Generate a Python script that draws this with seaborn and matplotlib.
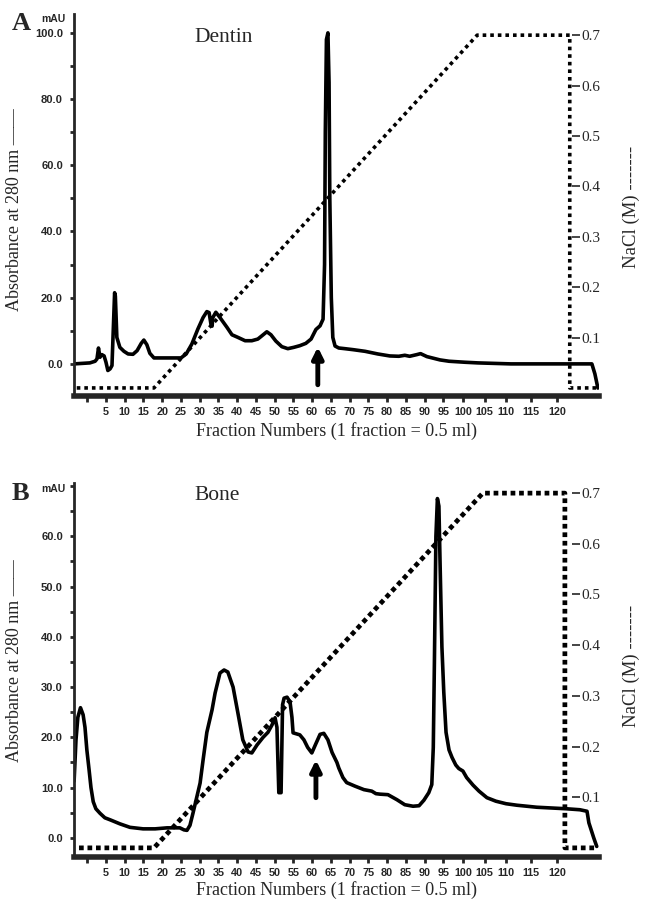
import numpy as np
import pandas as pd
import matplotlib
matplotlib.use("Agg")
import matplotlib.pyplot as plt
import seaborn as sns

# ---------------- data (fraction number, absorbance mAU) ----------------
dentin_frac = [-3.5, 0.7, 2.1, 2.6, 3.0, 3.4, 3.9, 4.5, 5.0, 5.5, 6.1, 6.6, 7.0, 7.3, 7.5, 7.9,
               8.7, 9.8, 10.9, 12.2, 13.3, 14.4, 15.1, 15.9, 16.7, 17.8, 25.0, 26.4, 27.9, 29.5,
               30.9, 31.9, 32.5, 33.0, 33.3, 33.5, 34.3, 35.4, 37.3, 38.6, 40.2, 42.1, 43.9, 45.5,
               46.6, 47.9, 49.0, 50.3, 51.9, 53.5, 55.1, 56.7, 58.3, 59.7, 61.0, 62.1, 62.9, 63.3,
               63.5, 63.8, 64.2, 64.5, 64.7, 65.1, 65.5, 66.1, 67.1, 68.7, 70.9, 74.1, 77.5, 80.7,
               83.1, 84.7, 86.0, 87.9, 88.9, 90.6, 94.1, 96.5, 100.7, 104.2, 113.0, 134.6, 135.4, 136.2]
dentin_abs = [0.0, 0.3, 0.8, 1.5, 4.8, 2.0, 2.8, 2.4, 0.5, -2.0, -1.5, -0.5, 12.0, 21.5, 20.5, 8.0,
              5.0, 3.8, 3.0, 2.9, 4.0, 6.2, 7.2, 5.8, 3.2, 1.8, 1.8, 3.0, 6.0, 10.5,
              14.0, 15.8, 15.5, 12.0, 11.4, 14.0, 15.6, 14.0, 11.0, 8.8, 8.0, 7.0, 7.0, 7.5,
              8.5, 9.7, 8.8, 6.9, 5.2, 4.6, 5.0, 5.5, 6.2, 7.5, 10.4, 11.5, 13.5, 30.0,
              70.0, 98.0, 100.0, 85.0, 50.0, 20.0, 8.0, 5.4, 4.8, 4.6, 4.3, 3.8, 3.0, 2.4,
              2.3, 2.6, 2.3, 2.8, 3.1, 2.2, 1.2, 0.8, 0.5, 0.3, 0.0, 0.0, -3.0, -7.3]

bone_frac = [-3.5, -3.0, -2.5, -1.8, -1.1, -0.6, -0.1, 0.5, 1.0, 1.6, 2.3, 3.4, 4.7, 6.1, 8.7,
             11.4, 14.9, 18.1, 21.3, 24.7, 25.8, 26.6, 27.4, 28.2, 30.1, 30.9, 31.9, 33.3, 34.1,
             35.4, 36.5, 37.5, 38.9, 40.2, 41.5, 42.9, 43.9, 45.3, 46.9, 48.2, 49.3, 50.1, 50.6,
             51.1, 51.7, 52.1, 52.5, 53.3, 54.1, 54.6, 54.9, 56.7, 57.8, 58.8, 59.9, 60.9, 62.1,
             63.1, 64.2, 65.3, 66.6, 67.1, 68.2, 69.2, 71.4, 73.8, 75.9, 77.0, 78.1, 80.2, 82.6,
             84.7, 86.9, 88.5, 89.8, 91.1, 91.9, 92.3, 92.6, 93.0, 93.4, 93.8, 94.1, 94.6, 95.1,
             95.7, 96.5, 97.3, 98.3, 99.1, 100.2, 101.2, 102.9, 104.5, 106.6, 109.0, 111.7, 114.6,
             119.9, 127.7, 131.4, 133.3, 133.8, 135.1, 135.9]
bone_abs = [11.3, 19.5, 24.0, 25.9, 24.5, 22.0, 17.5, 13.5, 10.0, 7.2, 5.8, 4.9, 4.0, 3.6, 2.8,
            2.1, 1.8, 1.8, 2.0, 2.0, 1.6, 1.5, 2.5, 4.9, 10.9, 15.5, 21.0, 25.5, 28.8,
            32.8, 33.4, 33.0, 30.0, 24.8, 19.5, 17.1, 16.9, 18.5, 20.0, 21.0, 22.5, 23.9, 22.0,
            9.0, 9.0, 26.5, 27.8, 28.0, 27.0, 24.0, 20.9, 20.5, 19.5, 18.0, 16.9, 18.6, 20.6,
            20.8, 19.5, 17.0, 15.0, 13.9, 12.0, 11.0, 10.3, 9.6, 9.3, 8.8, 8.7, 8.6, 7.6,
            6.6, 6.3, 6.4, 7.5, 9.0, 10.6, 18.0, 35.0, 60.0, 67.5, 66.0, 55.0, 38.0, 29.0,
            21.0, 17.5, 16.0, 14.5, 13.8, 13.3, 12.0, 10.5, 9.3, 8.0, 7.3, 6.8, 6.5,
            6.1, 5.8, 5.6, 5.3, 3.0, 0.0, -1.7]

# NaCl gradient (fraction, M)
dentin_salt_frac = [-2.8, 17.8, 104.0, 128.7, 128.7, 136.0]
dentin_salt_m = [0.0, 0.0, 0.7, 0.7, 0.0, 0.0]
bone_salt_frac = [-2.2, 17.8, 105.5, 127.4, 127.4, 135.4]
bone_salt_m = [0.0, 0.0, 0.7, 0.7, 0.0, 0.0]

# arrows marking the collected fraction (fraction, tip, tail)
dentin_arrow = (61.5, 5.1, -6.3)
bone_arrow = (61.0, 15.5, 8.0)

# x tick labels as printed (the three-digit labels are spread wider in the original)
x_ticklabels = [str(v) for v in range(5, 125, 5)]
x_tickpos = [float(v) for v in range(5, 100, 5)] + [100.2, 106.0, 111.8, 118.3, 125.4]
x_minor = [0.0]

dentin_yticks = [0, 20, 40, 60, 80, 100]
dentin_yminor = [10, 30, 50, 70, 90]
bone_yticks = [0, 10, 20, 30, 40, 50, 60]
bone_yminor = [5, 15, 25, 35, 45, 55, 65, 70]
salt_ticks = [0.1, 0.2, 0.3, 0.4, 0.5, 0.6, 0.7]

# ---------------- style ----------------
sns.set_style("ticks")
plt.rcParams["font.family"] = ["Liberation Serif", "DejaVu Serif"]
SANS = ["Liberation Sans", "DejaVu Sans"]

W, H = 648, 905
fig = plt.figure(figsize=(W / 100, H / 100), dpi=100)


def rect(l, t, r, b):
    return [l / W, 1 - b / H, (r - l) / W, (b - t) / H]


def panel(box, frac, absb, sfrac, sm, ylim, y2lim, yt, ymin, arrow, salt_lw, salt_ls):
    ax = fig.add_axes(rect(*box))
    df = pd.DataFrame({"f": frac, "a": absb})
    sns.lineplot(data=df, x="f", y="a", ax=ax, color="black", lw=2.6,
                 estimator=None, sort=False)
    ax.set_xlim(-3.53, 136.5)
    ax.set_ylim(*ylim)
    ax.set_xlabel("")
    ax.set_ylabel("")
    for s in ["top", "right"]:
        ax.spines[s].set_visible(False)
    ax.spines["left"].set_linewidth(2.0)
    ax.spines["bottom"].set_linewidth(4.0)
    ax.set_xticks(x_tickpos)
    ax.set_xticklabels(x_ticklabels, family=SANS, fontweight="bold", fontsize=7.8)
    ax.set_xticks(x_minor, minor=True)
    ax.tick_params(axis="x", which="both", length=4, width=2, pad=4)
    ax.set_yticks(yt)
    ax.set_yticklabels([f"{v:.1f}" for v in yt], family=SANS, fontweight="bold", fontsize=8)
    ax.set_yticks(ymin, minor=True)
    ax.tick_params(axis="y", which="both", length=3, width=2, pad=5)

    ax2 = ax.twinx()
    sd = pd.DataFrame({"f": sfrac, "m": sm})
    sns.lineplot(data=sd, x="f", y="m", ax=ax2, color="black", lw=salt_lw,
                 linestyle=salt_ls, estimator=None, sort=False)
    ax2.set_ylim(*y2lim)
    ax2.set_xlim(-3.53, 136.5)
    ax2.set_ylabel("")
    for s in ["top", "left", "bottom"]:
        ax2.spines[s].set_visible(False)
    ax2.spines["right"].set_position(("axes", 0.948))
    ax2.spines["right"].set_visible(False)
    ax2.set_yticks(salt_ticks)
    ax2.set_yticklabels([f"{v:.1f}" for v in salt_ticks], fontsize=11)
    ax2.tick_params(axis="y", length=6, width=1.2, pad=1)

    ax.annotate("", xy=(arrow[0], arrow[1]), xytext=(arrow[0], arrow[2]),
                arrowprops=dict(arrowstyle="-|>", lw=3.5, color="black",
                                mutation_scale=16, shrinkA=0, shrinkB=0))
    return ax, ax2


panel((74, 14, 599, 396), dentin_frac, dentin_abs, dentin_salt_frac, dentin_salt_m,
      (-9.7, 105.7), (-0.016, 0.742), dentin_yticks, dentin_yminor, dentin_arrow,
      2.6, (0, (1, 1.1)))
panel((74, 483, 599, 857), bone_frac, bone_abs, bone_salt_frac, bone_salt_m,
      (-3.8, 70.6), (-0.018, 0.72), bone_yticks, bone_yminor, bone_arrow,
      3.4, (0, (1, 0.8)))

# ---------------- texts ----------------
def ft(x, y, s, **kw):
    fig.text(x / W, 1 - y / H, s, **kw)


for (ytop, letter, name, ylab_c, nacl_c, xlab_c, namey) in [
        (30, "A", "Dentin", 210, 207, 431, 42),
        (500, "B", "Bone", 661, 666, 890, 500)]:
    ft(12, ytop, letter, fontsize=19, fontweight="bold", va="baseline")
    ft(66, ytop - 11, "mAU", family=SANS, fontweight="bold", fontsize=7.5,
       ha="right", va="center")
    ft(194, namey, name, fontsize=15.5, va="baseline")
    ft(15, ylab_c, "Absorbance at 280 nm ——", fontsize=13, rotation=90,
       ha="center", va="center")
    ft(631, nacl_c, "NaCl (M) -------", fontsize=13.5, rotation=90,
       ha="center", va="center")
    ft(337, xlab_c, "Fraction Numbers (1 fraction = 0.5 ml)", fontsize=13,
       ha="center", va="center")

fig.savefig("out.png", dpi=100)
